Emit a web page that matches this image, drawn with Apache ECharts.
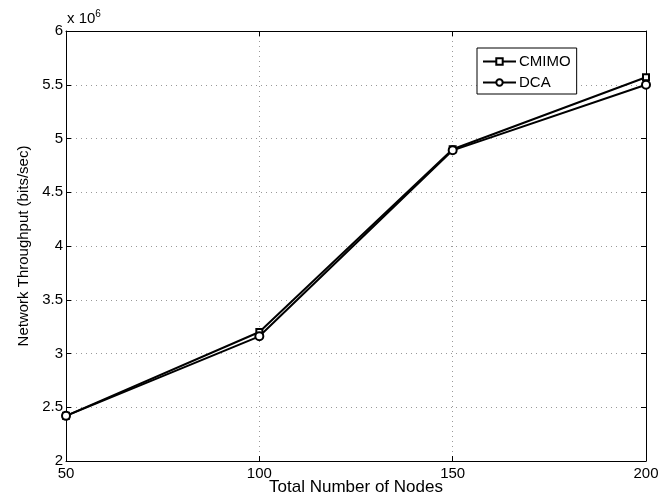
<!DOCTYPE html>
<html>
<head>
<meta charset="utf-8">
<script src="https://cdn.jsdelivr.net/npm/echarts@6/dist/echarts.min.js"></script>
<style>
  html, body { margin: 0; padding: 0; background: #fff; }
  #chart { width: 659px; height: 499px; }
</style>
</head>
<body>
<div id="chart"></div>
<script>
// Network throughput (in units of 10^6 bits/sec) versus node count
const nodes = [50, 100, 150, 200];
const cmimo = [2.42, 3.20, 4.90, 5.57];
const dca = [2.42, 3.16, 4.89, 5.50];
const yTicks = ['2', '2.5', '3', '3.5', '4', '4.5', '5', '5.5', '6'];

const font = 'Liberation Sans, Arial, Helvetica, sans-serif';
const chart = echarts.init(document.getElementById('chart'), null, { renderer: 'canvas' });

const pairs = (xs, ys) => xs.map((x, i) => [x, ys[i]]);

const axisBase = {
  type: 'value',
  axisLine: { show: true, lineStyle: { color: '#000', width: 1 } },
  axisTick: { show: true, inside: true, length: 5, lineStyle: { color: '#000' } },
  splitLine: { show: false },
  axisLabel: { show: false }
};

chart.setOption({
  animation: false,
  backgroundColor: '#fff',
  grid: { left: 66, right: 13, top: 31, bottom: 38, containLabel: false, outerBoundsMode: 'none' },
  xAxis: [
    Object.assign({}, axisBase, {
      position: 'bottom', min: 50, max: 200, interval: 50,
      axisLabel: { show: true, color: '#000', fontFamily: font, fontSize: 15, margin: 5 },
      splitLine: { show: true, lineStyle: { color: '#999', type: [1, 4], width: 1 } },
      name: 'Total Number of Nodes', nameLocation: 'middle', nameGap: 18, nameMoveOverlap: false,
      nameTextStyle: { color: '#000', fontFamily: font, fontSize: 17 }
    }),
    Object.assign({}, axisBase, { position: 'top', min: 50, max: 200, interval: 50 })
  ],
  yAxis: [
    Object.assign({}, axisBase, {
      position: 'left', min: 2, max: 6, interval: 0.5,
      axisLabel: {
        show: true, color: '#000', fontFamily: font, fontSize: 15, margin: 3,
        formatter: (v) => yTicks[Math.round((v - 2) / 0.5)]
      },
      splitLine: { show: true, lineStyle: { color: '#999', type: [1, 4], width: 1 } },
      name: 'Network Throughput (bits/sec)', nameLocation: 'middle', nameGap: 35, nameMoveOverlap: false,
      nameTextStyle: { color: '#000', fontFamily: font, fontSize: 15 }
    }),
    Object.assign({}, axisBase, { position: 'right', min: 2, max: 6, interval: 0.5 })
  ],
  legend: {
    left: 477, top: 48, orient: 'vertical',
    backgroundColor: '#fff', borderColor: '#000', borderWidth: 1, borderRadius: 0,
    padding: [6, 6, 4, 5], itemGap: 6, itemWidth: 33, itemHeight: 8,
    textStyle: { color: '#000', fontFamily: font, fontSize: 15, padding: [0, 0, 0, -2] },
    data: ['CMIMO', 'DCA']
  },
  graphic: [{
    type: 'text', left: 67, top: 9,
    style: {
      text: '{a|x 10}{b|6}',
      rich: {
        a: { fontFamily: font, fontSize: 15, fill: '#000' },
        b: { fontFamily: font, fontSize: 10, fill: '#000', verticalAlign: 'top', padding: [0, 0, 9, 0] }
      }
    }
  }],
  series: [
    {
      name: 'CMIMO', type: 'line', data: pairs(nodes, cmimo),
      symbol: 'rect', symbolSize: 6, showAllSymbol: true,
      lineStyle: { color: '#000', width: 2 },
      itemStyle: { color: '#fff', borderColor: '#000', borderWidth: 2 }
    },
    {
      name: 'DCA', type: 'line', data: pairs(nodes, dca),
      symbol: 'circle', symbolSize: 8, showAllSymbol: true,
      lineStyle: { color: '#000', width: 2 },
      itemStyle: { color: '#fff', borderColor: '#000', borderWidth: 2 }
    }
  ]
});
</script>
</body>
</html>
